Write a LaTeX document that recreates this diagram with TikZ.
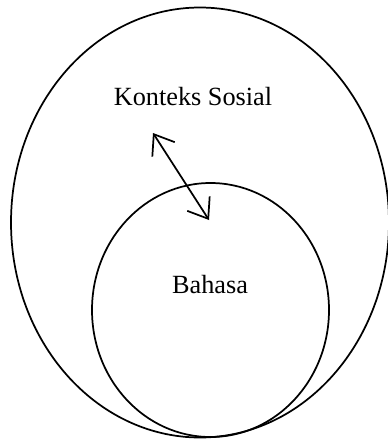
\documentclass[tikz,border=0pt]{standalone}
\usepackage{fontspec}
\setmainfont{Liberation Serif}
\usepackage{tikz}
\usetikzlibrary{arrows.meta}
\tikzset{
  ring/.style    = {draw=black, line width=1.3pt},
  lbl/.style     = {font=\fontsize{19.7}{23}\selectfont, inner sep=0pt},
  relarrow/.style = {{Straight Barb[length=13.5pt, width=20pt, line width=1.3pt]}-{Straight Barb[length=13.5pt, width=20pt, line width=1.3pt]}, line width=1.3pt},
}

\begin{document}
\begin{tikzpicture}[x=0.75pt, y=-0.75pt]
  \useasboundingbox (0,0) rectangle (388,440);
  % outer: social context
  \draw[ring] (200,222.5) ellipse (189 and 215);
  % inner: language
  \draw[ring] (210.5,310) ellipse (118.5 and 127);
  \node[lbl] (konteks) at (193,97) {Konteks Sosial};
  \node[lbl] (bahasa) at (210,285) {Bahasa};
  \coordinate (ktip) at (153,133);
  \coordinate (btip) at (209,220);
  \draw[relarrow] (ktip) -- (btip);
\end{tikzpicture}
\end{document}
